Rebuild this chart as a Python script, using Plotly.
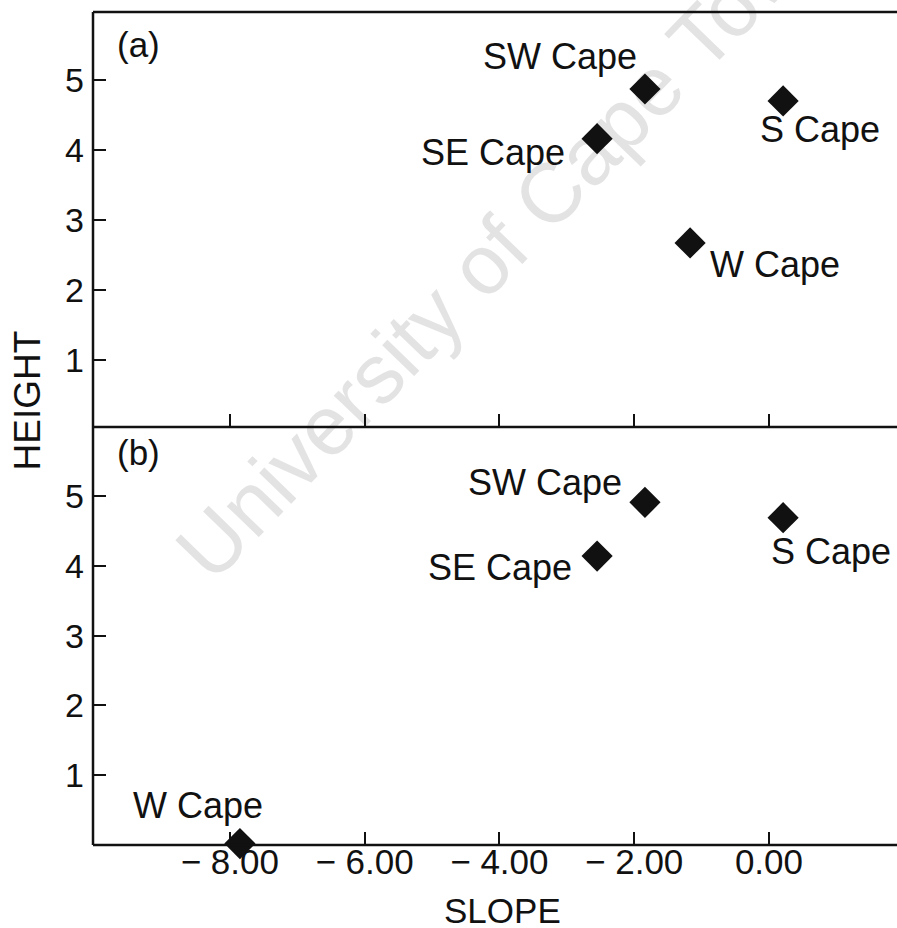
import plotly.graph_objects as go

# ---- data ----
regions = ["SW Cape", "S Cape", "SE Cape", "W Cape"]

# panel (a)
slope_a = [-1.84, 0.21, -2.55, -1.17]
height_a = [4.87, 4.70, 4.16, 2.67]

# panel (b)
slope_b = [-1.84, 0.21, -2.55, -7.85]
height_b = [4.91, 4.69, 4.14, 0.02]

x_tickvals = [-8, -6, -4, -2, 0]
x_ticktext = ["\u2212 8.00", "\u2212 6.00", "\u2212 4.00", "\u2212 2.00", "0.00"]
y_tickvals = [1, 2, 3, 4, 5]

# ---- label placement (pixel offsets from each marker) ----
offsets_a = {
    "SW Cape": ("right", -6, 32),
    "S Cape": ("left", -25, -29),
    "SE Cape": ("right", -30, -14),
    "W Cape": ("left", 18, -22),
}
offsets_b = {
    "SW Cape": ("right", -21, 20),
    "S Cape": ("left", -14, -34),
    "SE Cape": ("right", -23, -11),
    "W Cape": ("center", -42, 38),
}

FONT = "Liberation Sans, Arial, Helvetica, sans-serif"
INK = "#111111"

fig = go.Figure()

marker = dict(symbol="diamond", size=24, color=INK, line=dict(width=0))
fig.add_trace(go.Scatter(x=slope_a, y=height_a, mode="markers", marker=marker,
                         xaxis="x", yaxis="y", cliponaxis=False, showlegend=False))
fig.add_trace(go.Scatter(x=slope_b, y=height_b, mode="markers", marker=marker,
                         xaxis="x2", yaxis="y2", cliponaxis=False, showlegend=False))

annotations = []
for names, xs, ys, offs, xr, yr in [
    (regions, slope_a, height_a, offsets_a, "x", "y"),
    (regions, slope_b, height_b, offsets_b, "x2", "y2"),
]:
    for name, xv, yv in zip(names, xs, ys):
        anchor, dx, dy = offs[name]
        annotations.append(dict(
            x=xv, y=yv, xref=xr, yref=yr, text=name, showarrow=False,
            xanchor=anchor, yanchor="middle", xshift=dx, yshift=dy,
            font=dict(family=FONT, size=36, color=INK),
        ))

PLOT_W = 897 - 93

# panel tags
annotations.append(dict(x=22 / PLOT_W, y=0.9604, xref="paper", yref="paper", text="(a)",
                        showarrow=False, xanchor="left", yanchor="middle",
                        font=dict(family=FONT, size=35, color=INK)))
annotations.append(dict(x=22 / PLOT_W, y=0.4706, xref="paper", yref="paper", text="(b)",
                        showarrow=False, xanchor="left", yanchor="middle",
                        font=dict(family=FONT, size=35, color=INK)))

# axis titles
annotations.append(dict(x=(27.5 - 93) / PLOT_W, y=0.533, xref="paper", yref="paper",
                        text="HEIGHT", showarrow=False, textangle=-90,
                        xanchor="center", yanchor="middle",
                        font=dict(family=FONT, size=37, color=INK)))
annotations.append(dict(x=(503 - 93) / PLOT_W, y=-0.079, xref="paper", yref="paper",
                        text="SLOPE", showarrow=False, xanchor="center", yanchor="middle",
                        font=dict(family=FONT, size=35, color=INK)))

split = (845 - 427) / 833

wm_x = (500 - 93) / PLOT_W
wm_y = (845 - 234) / 833

frame = dict(color=INK, width=2.5)
shapes = [
    # faint diagonal watermark, kept underneath the data
    dict(
        type="rect", xref="paper", yref="paper", layer="below",
        x0=wm_x - 0.01, x1=wm_x + 0.01, y0=wm_y - 0.01, y1=wm_y + 0.01,
        line=dict(width=0, color="rgba(0,0,0,0)"), fillcolor="rgba(0,0,0,0)",
        label=dict(text="University of Cape Town", textangle=-46,
                   textposition="middle center",
                   font=dict(family=FONT, size=84, color="#e3e3e3")),
    ),
    # frame: top of (a), shared divider, bottom of (b), left edge
    dict(type="line", xref="paper", yref="paper", x0=0, x1=1, y0=1, y1=1, line=frame),
    dict(type="line", xref="paper", yref="paper", x0=0, x1=1, y0=split, y1=split, line=frame),
    dict(type="line", xref="paper", yref="paper", x0=0, x1=1, y0=0, y1=0, line=frame),
    dict(type="line", xref="paper", yref="paper", x0=0, x1=0, y0=0, y1=1, line=frame),
]

axis_common = dict(
    showline=False, showgrid=False, zeroline=False,
    ticks="inside", ticklen=13, tickwidth=2, tickcolor=INK,
    tickfont=dict(family=FONT, size=34, color=INK),
)

x_range = [-10.03, 1.9]

fig.update_layout(
    template="none",
    width=897, height=928,
    margin=dict(l=93, r=0, t=12, b=83),
    paper_bgcolor="white", plot_bgcolor="rgba(0,0,0,0)",
    showlegend=False,
    xaxis=dict(axis_common, domain=[0, 1], anchor="y", range=x_range,
               tickvals=x_tickvals, showticklabels=False),
    yaxis=dict(axis_common, domain=[split, 1], anchor="x", range=[0.04, 5.97],
               tickvals=y_tickvals, ticklabelstandoff=8),
    xaxis2=dict(axis_common, domain=[0, 1], anchor="y2", range=x_range,
                tickvals=x_tickvals, ticktext=x_ticktext, ticklabelstandoff=-7,
                tickfont=dict(family=FONT, size=35, color=INK)),
    yaxis2=dict(axis_common, domain=[0, split], anchor="x2", range=[0.0, 5.99],
                tickvals=y_tickvals, ticklabelstandoff=8),
    annotations=annotations,
    shapes=shapes,
)

fig.write_html("out.html")
